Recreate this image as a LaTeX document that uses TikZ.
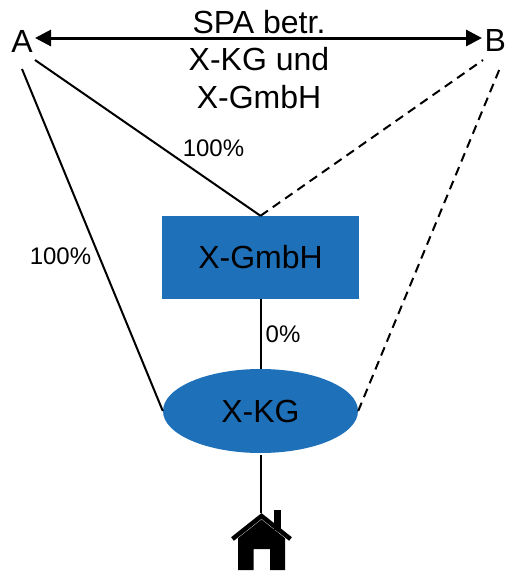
\documentclass[tikz,border=0pt]{standalone}
\usepackage{fontspec}
\setmainfont{Liberation Sans}
\usetikzlibrary{shapes.geometric,arrows.meta}
\definecolor{boxblue}{RGB}{30,112,184}
\newcommand{\bigtxt}{\fontsize{32}{37.5}\selectfont}
\newcommand{\smalltxt}{\fontsize{24}{28}\selectfont}
\tikzset{
  line/.style={draw=black,line width=2pt},
  dashline/.style={line,dash pattern=on 9pt off 6pt},
  darrow/.style={draw=black,line width=3pt,{Triangle[length=16pt,width=16pt]}-{Triangle[length=16pt,width=16pt]}},
  big/.style={font=\bigtxt,inner sep=0pt,text=black},
  small/.style={font=\smalltxt,inner sep=0pt,text=black},
  bluebox/.style={fill=boxblue,draw=none,inner sep=0pt}
}
\begin{document}
\begin{tikzpicture}[x=1pt,y=-1pt]
\useasboundingbox (0,0) rectangle (506,571);
\node[big] (A) at (22,41) {A};
\node[big] (B) at (495.3,40) {B};
\node[big,align=center] (spa) at (259,59.5) {SPA betr.\\X-KG und\\X-GmbH};
\node[bluebox,minimum width=197pt,minimum height=83pt] (gmbh) at (260.5,257.5) {};
\node[big] at (gmbh.center) {X-GmbH};
\node[bluebox,ellipse,minimum width=195pt,minimum height=84pt] (kg) at (260.5,411) {};
\node[big] at (kg.center) {X-KG};
\node[small] (p1) at (213.5,148) {100\%};
\node[small] (p2) at (60.5,256) {100\%};
\node[small] (p3) at (283,334) {0\%};
\coordinate (arrL) at (35,38);
\coordinate (arrR) at (482,38);
\coordinate (aTop) at (35,60);
\coordinate (aLeft) at (22,69);
\coordinate (bTop) at (483,60);
\coordinate (bRight) at (500,68);
\coordinate (roof) at (261,513);
\coordinate (kgBottom) at (261,455);
\draw[darrow] (arrL) -- (arrR);
\draw[line] (aTop) -- (gmbh.north);
\draw[dashline] (gmbh.north) -- (bTop);
\draw[line] (aLeft) -- (kg.west);
\draw[dashline] (kg.east) -- (bRight);
\draw[line,xshift=0.5pt] (gmbh.south) -- (kg.north);
\draw[line] (kgBottom) -- (roof);
% house
\fill[black] (273.5,510) rectangle (281,530);
\fill[black] (238,538.2) -- (261.5,519.5) -- (285,538.2) -- (285,570) -- (270,570) -- (270,549) -- (253.5,549) -- (253.5,570) -- (238,570) -- cycle;
\draw[black,line width=4.5pt,line cap=butt] (232.5,539) -- (261.5,516) -- (290.5,539);
\end{tikzpicture}
\end{document}
